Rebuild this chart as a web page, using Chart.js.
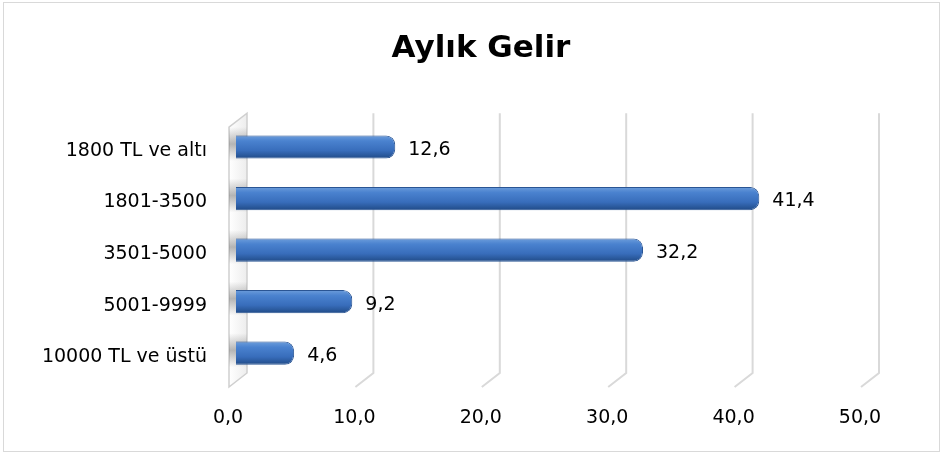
<!DOCTYPE html>
<html>
<head>
<meta charset="utf-8">
<script src="https://cdn.jsdelivr.net/npm/chart.js@4/dist/chart.umd.min.js"></script>
<style>
  html, body { margin: 0; padding: 0; background: #fff; }
  #frame { position: absolute; left: 3px; top: 2px; width: 935px; height: 448px; border: 1px solid #d9d9d9; }
  #chart { position: absolute; left: 0; top: 0; }
</style>
</head>
<body>
<div id="frame"></div>
<canvas id="chart" width="946" height="454"></canvas>
<script>
const chartTitle = 'Aylık Gelir';
const categories = ['1800 TL ve altı', '1801-3500', '3501-5000', '5001-9999', '10000 TL ve üstü'];
const values = [12.6, 41.4, 32.2, 9.2, 4.6];
const xTicks = [0, 10, 20, 30, 40, 50];

const FONT = "'DejaVu Sans', sans-serif";
const fmt = v => Number(v).toFixed(1).replace('.', ',');

// fake 3D: gridlines sit on the back wall, feet slant to the front
const depth = { dx: 18, dy: 14, back: 11 };

const backdrop = {
  id: 'backdrop',
  beforeDatasetsDraw(chart) {
    const { ctx, chartArea, scales: { x } } = chart;
    const top = chartArea.top - 8, bot = chartArea.bottom - 6;
    ctx.save();
    ctx.strokeStyle = '#d9d9d9';
    ctx.lineWidth = 2;
    xTicks.slice(1).forEach(v => {
      const xb = x.getPixelForValue(v) + depth.back;
      ctx.beginPath();
      ctx.moveTo(xb, top);
      ctx.lineTo(xb, bot);
      ctx.lineTo(xb - depth.dx, bot + depth.dy);
      ctx.stroke();
    });
    // left side wall
    const x0 = x.getPixelForValue(0) + depth.back;
    ctx.beginPath();
    ctx.moveTo(x0 - depth.dx, top + depth.dy);
    ctx.lineTo(x0, top);
    ctx.lineTo(x0, bot);
    ctx.lineTo(x0 - depth.dx, bot + depth.dy);
    ctx.closePath();
    const g = ctx.createLinearGradient(x0 - depth.dx, 0, x0, 0);
    g.addColorStop(0, '#ffffff');
    g.addColorStop(1, '#ededed');
    ctx.fillStyle = g;
    ctx.fill();
    ctx.lineWidth = 1.5;
    ctx.strokeStyle = '#cfcfcf';
    ctx.stroke();
    ctx.clip();
    chart.getDatasetMeta(0).data.forEach(bar => {
      const sg = ctx.createLinearGradient(0, bar.y - 20, 0, bar.y + 14);
      sg.addColorStop(0, 'rgba(110,110,110,0)');
      sg.addColorStop(0.5, 'rgba(110,110,110,0.5)');
      sg.addColorStop(1, 'rgba(110,110,110,0)');
      ctx.fillStyle = sg;
      ctx.fillRect(x0 - depth.dx, bar.y - 20, depth.dx, 34);
    });
    ctx.restore();
  },
  afterDatasetsDraw(chart) {
    const { ctx } = chart;
    ctx.save();
    ctx.font = `19px ${FONT}`;
    ctx.fillStyle = '#000';
    ctx.textBaseline = 'middle';
    ctx.textAlign = 'left';
    chart.getDatasetMeta(0).data.forEach((bar, i) => {
      ctx.fillText(fmt(values[i]), bar.x + 13, bar.y + 3);
    });
    ctx.restore();
  }
};

function barFill(c) {
  const chart = c.chart;
  if (!chart.chartArea || c.dataIndex === undefined) return '#3b70bf';
  const y = chart.scales.y.getPixelForValue(c.dataIndex);
  const g = chart.ctx.createLinearGradient(0, y - 12, 0, y + 12);
  g.addColorStop(0, '#6f9fdc');
  g.addColorStop(0.25, '#4a82cf');
  g.addColorStop(0.65, '#386dbb');
  g.addColorStop(1, '#1f4984');
  return g;
}

new Chart(document.getElementById('chart'), {
  type: 'bar',
  data: {
    labels: categories,
    datasets: [{
      data: values,
      backgroundColor: barFill,
      borderColor: '#2a5594',
      borderWidth: 1,
      borderRadius: 9,
      borderSkipped: 'start',
      categoryPercentage: 1,
      barPercentage: 0.45
    }]
  },
  options: {
    indexAxis: 'y',
    responsive: false,
    animation: false,
    layout: { padding: { left: 16, right: 0 } },
    plugins: {
      legend: { display: false },
      tooltip: { enabled: false },
      title: {
        display: true,
        text: chartTitle,
        color: '#000',
        font: { family: FONT, size: 31, weight: 'bold' },
        padding: { top: 30, bottom: 54 }
      }
    },
    scales: {
      x: {
        min: 0,
        max: 50,
        afterFit: s => { s.height = 75; },
        afterBuildTicks: s => { s.ticks = xTicks.map(v => ({ value: v })); },
        grid: { display: false, drawTicks: false },
        border: { display: false },
        ticks: { padding: 28, labelOffset: -8, color: '#000', font: { family: FONT, size: 19 }, callback: v => fmt(v) }
      },
      y: {
        afterFit: s => { s.width = 220; },
        grid: { display: false, drawTicks: false },
        border: { display: false },
        ticks: { padding: 29, labelOffset: 4, color: '#000', font: { family: FONT, size: 19 } }
      },
      // empty right-hand margin so the title stays centred on the frame
      yRight: {
        position: 'right',
        afterFit: s => { s.width = 78; },
        grid: { display: false, drawTicks: false },
        border: { display: false },
        ticks: { display: false }
      }
    }
  },
  plugins: [backdrop]
});
</script>
</body>
</html>
